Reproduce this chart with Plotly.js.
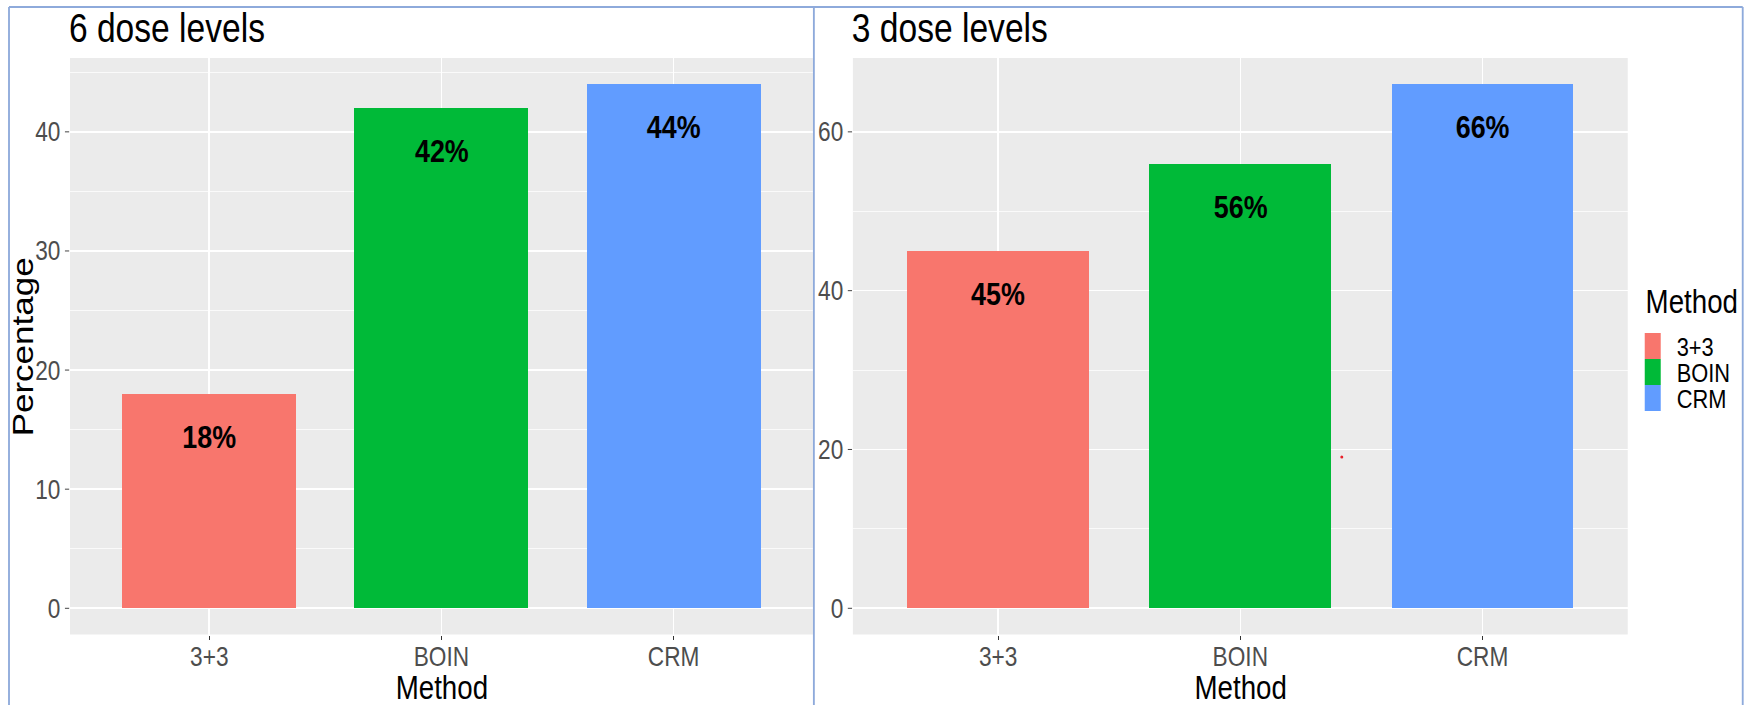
<!DOCTYPE html>
<html>
<head>
<meta charset="utf-8">
<script src="https://cdn.plot.ly/plotly-3.0.1.min.js"></script>
<style>
  html, body { margin: 0; padding: 0; background: #ffffff; overflow: hidden; }
  #frame { width: 1750px; height: 705px; overflow: hidden; }
  /* the figure is laid out wider and then condensed horizontally */
  #chart { transform-origin: 0 0; }
</style>
</head>
<body>
<div id="frame"><div id="chart"></div></div>
<script>
// Share of trials that select the correct dose, by design method
const methods = ['3+3', 'BOIN', 'CRM'];
const sixDoseLevels = [18, 42, 44];
const threeDoseLevels = [45, 56, 66];
const methodColors = ['#F8766D', '#00BA38', '#619CFF'];
const panelTitles = ['6 dose levels', '3 dose levels'];
const legendTitle = 'Method';
const xTitle = 'Method';
const yTitle = 'Percentage';

const W = 1750, H = 705;
const SQUEEZE = 0.84;                 // horizontal condensing of the whole figure
const FIG_W = W / SQUEEZE;            // layout width before condensing
const px = x => x / W;                // page pixels -> paper x
const py = y => 1 - y / H;            // page pixels -> paper y

const FONT = '"Liberation Sans", Arial, sans-serif';

const panels = [
  { values: sixDoseLevels, xa: 'x', ya: 'y', dom: [70, 813], yrange: [-2.2, 46.2], major: 10 },
  { values: threeDoseLevels, xa: 'x2', ya: 'y2', dom: [853, 1628], yrange: [-3.3, 69.3], major: 20 }
];
const yDomain = [py(634.5), py(58)];

const traces = panels.map(p => ({
  type: 'bar',
  x: methods,
  y: p.values,
  xaxis: p.xa,
  yaxis: p.ya,
  width: 0.75,
  marker: { color: methodColors, line: { width: 0 } },
  showlegend: false,
  hoverinfo: 'x+y'
}));

const tickFont = { family: FONT, size: 27, color: '#4D4D4D' };

function xAxis(p, anchor) {
  return {
    domain: [px(p.dom[0]), px(p.dom[1])],
    anchor: anchor,
    type: 'category',
    range: [-0.6, 2.6],
    showgrid: true, gridcolor: '#ffffff', gridwidth: 1.9,
    zeroline: false, showline: false,
    ticks: 'outside', ticklen: 4, tickwidth: 1.2, tickcolor: '#333333',
    ticklabelstandoff: -6,
    tickfont: tickFont,
    fixedrange: true
  };
}
function yAxis(p, anchor) {
  return {
    domain: yDomain,
    anchor: anchor,
    range: p.yrange,
    tick0: 0,
    dtick: p.major,
    showgrid: true, gridcolor: '#ffffff', gridwidth: 1.6,
    minor: { tick0: 0, dtick: p.major / 2, showgrid: true, gridcolor: '#ffffff', gridwidth: 0.8, ticks: '' },
    zeroline: false, showline: false,
    ticks: 'outside', ticklen: 5, tickwidth: 1, tickcolor: '#333333',
    tickfont: tickFont,
    fixedrange: true
  };
}

const annotations = [];
const shapes = [];

panels.forEach((p, i) => {
  // panel title
  annotations.push({
    xref: 'paper', yref: 'paper', x: px(p.dom[0] - 3), y: py(28),
    xanchor: 'left', yanchor: 'middle', showarrow: false,
    text: panelTitles[i], font: { family: FONT, size: 40, color: '#000000' }
  });
  // x axis title
  annotations.push({
    xref: 'paper', yref: 'paper', x: px((p.dom[0] + p.dom[1]) / 2), y: py(687),
    xanchor: 'center', yanchor: 'middle', showarrow: false,
    text: xTitle, font: { family: FONT, size: 33, color: '#000000' }
  });
  // value labels near the top of each bar
  p.values.forEach((v, j) => {
    annotations.push({
      xref: p.xa, yref: p.ya, x: methods[j], y: v,
      xanchor: 'center', yanchor: 'middle', yshift: -43, showarrow: false,
      text: '<b>' + v + '%</b>', font: { family: FONT, size: 32, color: '#000000' }
    });
  });
});

// y axis title
annotations.push({
  xref: 'paper', yref: 'paper', x: px(23), y: py(347),
  xanchor: 'center', yanchor: 'middle', textangle: -90, showarrow: false,
  text: yTitle, font: { family: FONT, size: 35, color: '#000000' }
});

// legend: title, colour keys and labels
annotations.push({
  xref: 'paper', yref: 'paper', x: px(1644), y: py(302),
  xanchor: 'left', yanchor: 'middle', showarrow: false,
  text: legendTitle, font: { family: FONT, size: 33, color: '#000000' }
});
methods.forEach((m, j) => {
  const top = 333 + j * 26;
  shapes.push({
    type: 'rect', xref: 'paper', yref: 'paper',
    x0: px(1645), x1: px(1661), y0: py(top + 26), y1: py(top),
    fillcolor: methodColors[j], line: { width: 0 }
  });
  annotations.push({
    xref: 'paper', yref: 'paper', x: px(1675), y: py(top + 14),
    xanchor: 'left', yanchor: 'middle', showarrow: false,
    text: m, font: { family: FONT, size: 26, color: '#000000' }
  });
});

// small red point inside the right panel
shapes.push({
  type: 'circle', xref: 'paper', yref: 'paper',
  x0: px(1340.5), x1: px(1343.5), y0: py(458.5), y1: py(455.5),
  fillcolor: '#E8202A', line: { width: 0 }
});

// frame around the two panels
const frameColor = '#8EAADB';
[[9, 7, 9, H], [9, 7, 1743, 7], [1743, 7, 1743, H], [814, 7, 814, H]].forEach(s => {
  shapes.push({
    type: 'line', xref: 'paper', yref: 'paper', layer: 'above',
    x0: px(s[0]), y0: py(s[1]), x1: px(s[2]), y1: py(s[3]),
    line: { color: frameColor, width: 2.2 }
  });
});

const layout = {
  width: FIG_W, height: H,
  margin: { l: 0, r: 0, t: 0, b: 0 },
  paper_bgcolor: '#ffffff',
  plot_bgcolor: '#EBEBEB',
  bargap: 0,
  showlegend: false,
  xaxis: xAxis(panels[0], 'y'),
  yaxis: yAxis(panels[0], 'x'),
  xaxis2: xAxis(panels[1], 'y2'),
  yaxis2: yAxis(panels[1], 'x2'),
  annotations: annotations,
  shapes: shapes
};

const chart = document.getElementById('chart');
chart.style.width = FIG_W + 'px';
chart.style.height = H + 'px';
chart.style.transform = 'scaleX(' + SQUEEZE + ')';
Plotly.newPlot(chart, traces, layout, { displayModeBar: false, staticPlot: true });
</script>
</body>
</html>
